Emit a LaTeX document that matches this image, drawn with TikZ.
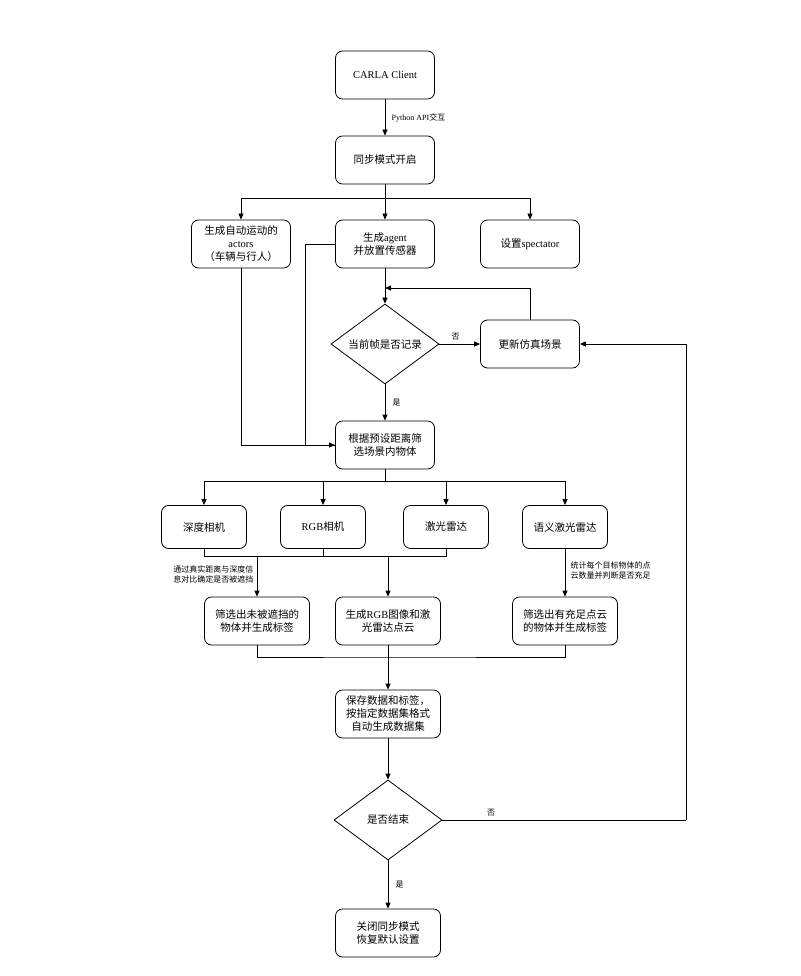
\documentclass[tikz,border=0pt]{standalone}
\usepackage{fontspec}
\setmainfont{Liberation Serif}
\newfontfamily\cjk{Noto Sans CJK SC}
\usetikzlibrary{shapes.geometric}
\usetikzlibrary{arrows.meta}

\begin{document}
\begin{tikzpicture}[x=1pt,y=-1pt,font=\cjk\fontsize{10.5}{13}\selectfont]
\tikzstyle{box}=[draw,thick,fill=white,rectangle,rounded corners=7pt,align=center,minimum width=99pt,minimum height=48pt,inner sep=2pt]
\tikzstyle{cam}=[box,minimum width=85pt,minimum height=43pt]
\tikzstyle{dec}=[draw,thick,diamond,aspect=1.35,align=center,minimum width=108pt,minimum height=80pt,inner sep=0pt]
\tikzstyle{lab}=[font=\cjk\fontsize{8}{10}\selectfont]
\tikzstyle{arr}=[thick,-{Triangle[length=6pt,width=5pt]}]

\useasboundingbox (0,0) rectangle (800,976);

\node (client) at (385,75) [box] {\rmfamily CARLA Client};
\node (sync) at (385,160) [box] {同步模式开启};
\node (actors) at (241,244) [box] {生成自动运动的\\{\rmfamily actors}\\（车辆与行人）};
\node (agent) at (385,244) [box] {生成{\rmfamily agent}\\并放置传感器};
\node (spect) at (530,244) [box] {设置{\rmfamily spectator}};
\node (rec) at (385,344) [dec] {当前帧是否记录};
\node (update) at (530,344) [box] {更新仿真场景};
\node (filter) at (385,445) [box] {根据预设距离筛\\选场景内物体};

\node (depth) at (204,527) [cam] {深度相机};
\node (rgb) at (323,527) [cam] {{\rmfamily RGB}相机};
\node (lidar) at (446,527) [cam] {激光雷达};
\node (slidar) at (565,527) [cam] {语义激光雷达};

\node (occl) at (257,621) [box,minimum width=105pt] {筛选出未被遮挡的\\物体并生成标签};
\node (gen) at (388,621) [box,minimum width=105pt] {生成{\rmfamily RGB}图像和激\\光雷达点云};
\node (pts) at (565,621) [box,minimum width=105pt] {筛选出有充足点云\\的物体并生成标签};

\node (save) at (388,714) [box,minimum width=105pt] {保存数据和标签，\\按指定数据集格式\\自动生成数据集};
\node (end) at (388,820) [dec] {是否结束};
\node (close) at (388,933) [box,minimum width=105pt] {关闭同步模式\\恢复默认设置};

\coordinate (split1) at (385,198);
\coordinate (loop) at (385,288);
\coordinate (split2) at (385,481);
\coordinate (merge1) at (257,556);
\coordinate (merge2) at (388,657);
\coordinate (back) at (686,820);

% top part
\draw[arr] (client) -- node[right,lab,xshift=3pt]{\rmfamily Python API\cjk 交互} (sync);
\draw[thick] (sync) -- (split1);
\draw[arr] (split1) -| (actors);
\draw[arr] (split1) -- (agent);
\draw[arr] (split1) -| (spect);
\draw[arr] (agent) -- (rec);
\draw[arr] (rec) -- node[above,lab,pos=.4]{否} (update);
\draw[arr] (update.north) |- (loop);
\draw[arr] (rec) -- node[right,lab,xshift=4pt]{是} (filter);
\draw[arr] (actors) |- (filter.west);
\draw[thick] (agent.west) -- ++(-30,0) |- (filter.west);

% sensors
\draw[thick] (filter) -- (split2);
\draw[arr] (split2) -| (depth);
\draw[arr] (split2) -| (rgb);
\draw[arr] (split2) -| (lidar);
\draw[arr] (split2) -| (slidar);
\draw[thick] (depth) |- (lidar.south |- merge1) -- (lidar.south);
\draw[thick] (rgb) -- (rgb.south |- merge1);
\draw[arr] (merge1) -- node[left,lab,align=right,pos=.45]{通过真实距离与深度信\\息对比确定是否被遮挡} (occl);
\draw[arr] (gen.north |- merge1) -- (gen);
\draw[arr] (slidar) -- node[right,lab,align=left,pos=.45,xshift=2pt]{统计每个目标物体的点\\云数量并判断是否充足} (pts);

% bottom part
\draw[thick] (occl) |- (merge2) -| (pts);
\draw[thick] (gen) -- (merge2);
\draw[arr] (merge2) -- (save);
\draw[arr] (save) -- (end);
\draw[arr] (end) -- node[right,lab,xshift=4pt]{是} (close);
\draw[thick] (end) -- node[above,lab,pos=.2]{否} (back);
\draw[arr] (back) |- (update.east);

\end{tikzpicture}
\end{document}
